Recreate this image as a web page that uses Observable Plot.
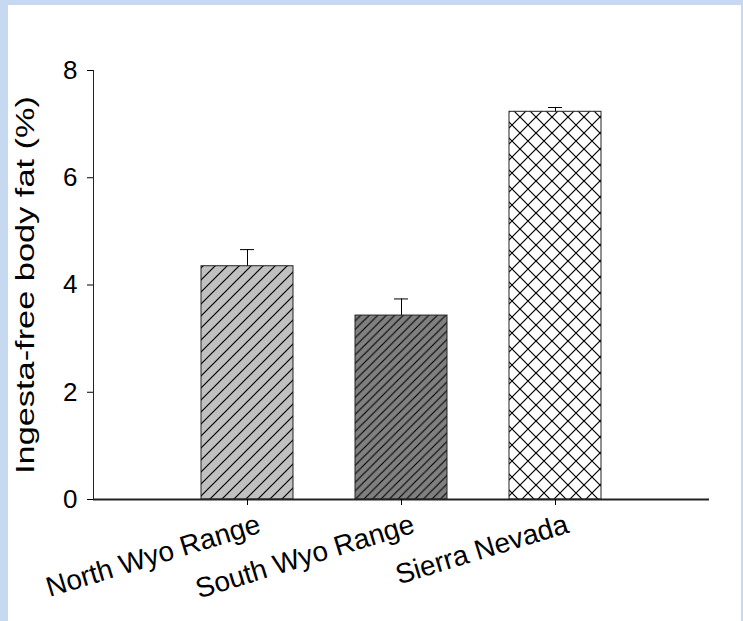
<!DOCTYPE html>
<html>
<head>
<meta charset="utf-8">
<script src="https://cdn.jsdelivr.net/npm/d3@7"></script>
<script src="https://cdn.jsdelivr.net/npm/@observablehq/plot@0.6"></script>
<style>
  html, body { margin: 0; padding: 0; background: #c6d9f0; }
  #wrap { position: absolute; left: 8px; top: 5px; width: 733px; height: 616px; background: #fff; }
  svg { font-family: "Liberation Sans", Arial, sans-serif; }
</style>
</head>
<body>
<div id="wrap"></div>
<script>
// ---- data ----
const categories = ["North Wyo Range", "South Wyo Range", "Sierra Nevada"];
const fatPercent = [4.35, 3.43, 7.23];
const fatError = [0.31, 0.31, 0.08];
const yTicks = [0, 2, 4, 6, 8];
const yLabel = "Ingesta-free body fat (%)";

// fills (style, kept apart from data)
const fillIds = ["url(#hatchLight)", "url(#hatchDark)", "url(#crossWhite)"];

const rows = categories.map((c, i) => ({cat: c, v: fatPercent[i], e: fatError[i], fill: fillIds[i]}));

const chart = Plot.plot({
  width: 733,
  height: 616,
  marginLeft: 85,
  marginRight: 32,
  marginTop: 65,
  marginBottom: 122,
  style: {fontFamily: "'Liberation Sans', Arial, sans-serif", color: "#000", background: "transparent"},
  x: {domain: categories, paddingInner: 0.4, paddingOuter: 0.7, label: null},
  y: {domain: [0, 8], label: null},
  color: {type: "identity"},
  marks: [
    Plot.barY(rows, {x: "cat", y: "v", fill: "fill", stroke: "#222", strokeWidth: 1}),
    Plot.ruleX(rows, {x: "cat", y1: "v", y2: d => d.v + d.e, stroke: "#000", strokeWidth: 1}),
    Plot.tickY(rows, {x: "cat", y: d => d.v + d.e, stroke: "#000", strokeWidth: 1, insetLeft: 39, insetRight: 39}),
    Plot.frame({anchor: "left", stroke: "#222", strokeWidth: 1}),
    Plot.ruleY([0], {stroke: "#222", strokeWidth: 2}),
    Plot.axisY({ticks: yTicks, tickSize: 6, tickPadding: 10, fontSize: 26, label: yLabel, labelAnchor: "center", labelOffset: 77, labelArrow: "none", tickFormat: d => String(d)}),
    Plot.axisX({tickSize: 6, tickFormat: () => "", label: null}),
    Plot.axisX({tickSize: 0, tickPadding: 14, tickRotate: -17, fontSize: 28, dx: 12, dy: 10, label: null})
  ]
});
// y-axis title: slightly stretched along its length, like the reference
chart.querySelectorAll("text").forEach(t => {
  if (t.textContent === yLabel) {
    t.setAttribute("font-size", "25");
    t.setAttribute("textLength", "378");
    t.setAttribute("lengthAdjust", "spacingAndGlyphs");
  }
});

const defs = `
<defs>
  <pattern id="hatchLight" patternUnits="userSpaceOnUse" width="12" height="12">
    <rect width="12" height="12" fill="#c0c0c0"/>
    <path d="M-3,3 L3,-3 M0,12 L12,0 M9,15 L15,9" stroke="#000" stroke-width="1.2"/>
  </pattern>
  <pattern id="hatchDark" patternUnits="userSpaceOnUse" width="8.5" height="8.5">
    <rect width="8.5" height="8.5" fill="#808080"/>
    <path d="M-2,2 L2,-2 M0,8.5 L8.5,0 M6.5,10.5 L10.5,6.5" stroke="#000" stroke-width="1.1"/>
  </pattern>
  <pattern id="crossWhite" patternUnits="userSpaceOnUse" width="16" height="16">
    <rect width="16" height="16" fill="#fff"/>
    <path d="M-4,4 L4,-4 M0,16 L16,0 M12,20 L20,12 M-4,12 L4,20 M0,0 L16,16 M12,-4 L20,4" stroke="#000" stroke-width="1.2"/>
  </pattern>
</defs>`;
chart.insertAdjacentHTML("afterbegin", defs);
document.getElementById("wrap").appendChild(chart);
</script>
</body>
</html>
